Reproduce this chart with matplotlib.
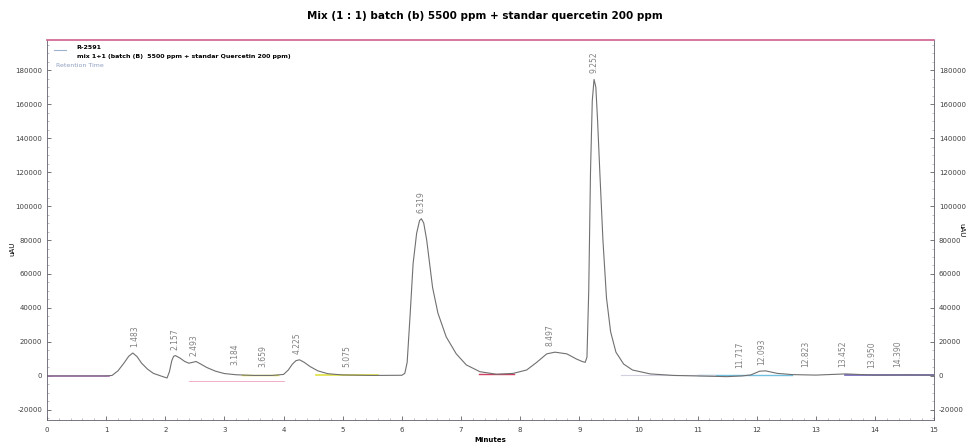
import numpy as np
import matplotlib
matplotlib.use('Agg')
import matplotlib.pyplot as plt
from matplotlib.ticker import MultipleLocator

plt.rcParams['axes.unicode_minus'] = False

# trace (minutes, uAU)
time = [0.0, 1.0, 1.10, 1.20, 1.30, 1.38, 1.45, 1.52, 1.60, 1.70, 1.80, 1.95, 2.03,
        2.07, 2.11, 2.14, 2.17, 2.25, 2.33, 2.40, 2.46, 2.52, 2.60, 2.70, 2.85, 3.00,
        3.20, 3.50, 3.80, 4.00, 4.08, 4.15, 4.21, 4.27, 4.35, 4.45, 4.58, 4.75, 5.00,
        5.50, 6.00, 6.05, 6.09, 6.14, 6.19, 6.25, 6.30, 6.33, 6.37, 6.42, 6.47, 6.52,
        6.61, 6.75, 6.92, 7.09, 7.32, 7.60, 7.88, 8.11, 8.28, 8.45, 8.59, 8.79, 8.95,
        9.05, 9.10, 9.13, 9.16, 9.19, 9.22, 9.25, 9.28, 9.31, 9.35, 9.40, 9.46, 9.53,
        9.62, 9.75, 9.90, 10.2, 10.6, 11.0, 11.5, 11.75, 11.9, 12.05, 12.15, 12.35,
        12.6, 13.0, 13.5, 14.0, 14.5, 15.0]
signal = [0, 0, 300, 3000, 7500, 11500, 13500, 11500, 7500, 4000, 1500, -300, -1200,
          2500, 9000, 11500, 12000, 10500, 8500, 7500, 8000, 8500, 7000, 5000, 2800, 1400,
          700, 300, 300, 900, 3500, 7000, 9000, 9500, 8000, 5500, 3000, 1300, 600,
          300, 400, 1500, 8000, 36000, 66000, 84000, 91500, 92500, 90000, 80000, 66000, 52000,
          37000, 23000, 13000, 6500, 2500, 1000, 1500, 3500, 8000, 13000, 14000, 13000, 10000,
          8500, 8000, 11000, 50000, 120000, 162000, 174500, 170000, 150000, 118000, 80000, 46000, 26000,
          14000, 7000, 3500, 1200, 300, 0, -400, 0, 600, 2800, 3000, 1500,
          800, 500, 1200, 500, 600, 500]

peak_rt = [1.483, 2.157, 2.493, 3.184, 3.659, 4.225, 5.075, 6.319, 8.497, 9.252,
           11.717, 12.093, 12.823, 13.452, 13.950, 14.390]
peak_top = [13500, 12000, 8500, 3000, 1500, 9500, 1500, 92500, 14000, 174500,
            1000, 3000, 1500, 1500, 1000, 1500]

yticks = list(range(-20000, 180001, 20000))

fig = plt.figure(figsize=(9.69, 4.43), dpi=100)
ax = fig.add_axes([0.0485, 0.052, 0.9155, 0.8577])

# integration baselines (coloured on the print)
ax.plot([0, 1.05], [0, 0], color='#c070d0', lw=1.2)
ax.plot([4.55, 5.6], [300, 300], color='#e0e040', lw=1.2)
ax.plot([3.3, 3.9], [300, 300], color='#e0e040', lw=1.0)
ax.plot([2.4, 4.0], [-2800, -2800], color='#f0a0c0', lw=0.6)
ax.plot([7.3, 7.9], [1000, 1000], color='#d04060', lw=1.0)
ax.plot([11.0, 12.6], [300, 300], color='#70c0e0', lw=1.0)
ax.plot([13.5, 15.0], [400, 400], color='#7060c0', lw=1.2)
ax.plot([9.7, 11.3], [300, 300], color='#d0d0e0', lw=0.8)

ax.plot(time, signal, color='#707070', lw=0.8)

for rt, top in zip(peak_rt, peak_top):
    ax.text(rt, top + 3500, f'{rt:.3f}', rotation=90, fontsize=5.5, color='#808080',
            ha='center', va='bottom')

ax.set_xlim(0, 15)
ax.set_ylim(-25900, 197700)
ax.set_xticks(range(16))
ax.xaxis.set_minor_locator(MultipleLocator(0.2))
ax.set_yticks(yticks)
ax.yaxis.set_minor_locator(MultipleLocator(5000))
ax.tick_params(axis='both', labelsize=5, direction='in', length=3, width=0.5, colors='#404040')
ax.tick_params(which='minor', direction='in', length=1.5, width=0.4, colors='#9090a0')
ax.tick_params(axis='y', which='both', right=True, labelright=True)
ax.tick_params(axis='x', pad=5)
for s in ['left', 'right', 'bottom']:
    ax.spines[s].set_color('#606070')
    ax.spines[s].set_linewidth(0.6)
ax.spines['top'].set_color('#d06090')
ax.spines['top'].set_linewidth(1.2)

ax.set_xlabel('Minutes', fontsize=5, fontweight='bold')
ax.xaxis.set_label_coords(0.5, -0.045)
ax.set_ylabel('uAU', fontsize=5)
ax.yaxis.set_label_coords(-0.036, 0.45)
fig.text(0.995, 0.48, 'uAU', fontsize=5, rotation=270, ha='right', va='center')

ax.plot([0.12, 0.32], [192000, 192000], color='#a0b0d0', lw=0.8)
ax.text(0.5, 193500, 'R-2591', fontsize=4.5, fontweight='bold', va='center')
ax.text(0.5, 188000, 'mix 1+1 (batch (B)  5500 ppm + standar Quercetin 200 ppm)',
        fontsize=4.5, fontweight='bold', va='center')
ax.text(0.15, 182500, 'Retention Time', fontsize=4.5, color='#90a0c0', va='center')

fig.suptitle('Mix (1 : 1) batch (b) 5500 ppm + standar quercetin 200 ppm',
             fontsize=7.5, fontweight='bold', y=0.975)

fig.savefig('out.png', dpi=100, facecolor='white')
